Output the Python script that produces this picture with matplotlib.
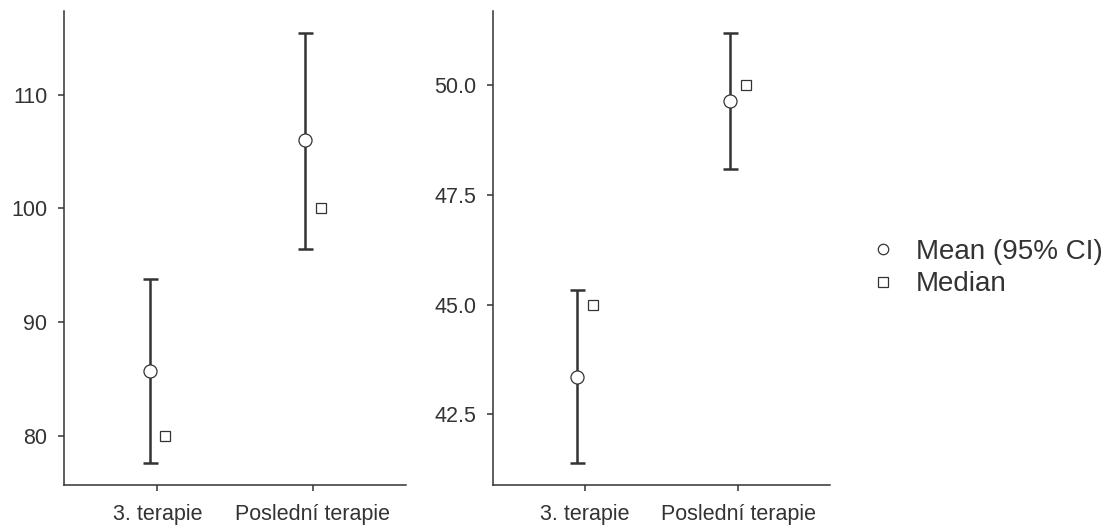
import matplotlib.pyplot as plt
from matplotlib.lines import Line2D

plt.rcParams.update({
    "font.family": ["Liberation Sans", "DejaVu Sans"],
    "axes.linewidth": 1.1,
    "axes.edgecolor": "#333333",
    "xtick.color": "#333333",
    "ytick.color": "#333333",
    "xtick.labelcolor": "#333333",
    "ytick.labelcolor": "#333333",
})

# ---- data ----
categories = ["3. terapie", "Poslední terapie"]

left_mean = [85.7, 106.0]
left_lo = [77.55, 96.4]
left_hi = [93.8, 115.45]
left_median = [80, 100]

right_mean = [43.36, 49.65]
right_lo = [41.38, 48.08]
right_hi = [45.34, 51.2]
right_median = [45, 50]

dark = "#333333"
dodge = 0.05

fig = plt.figure(figsize=(11.15, 5.3), dpi=100)
ax1 = fig.add_axes([64 / 1115, 1 - 485 / 530, 342 / 1115, 474 / 530])
ax2 = fig.add_axes([493 / 1115, 1 - 485 / 530, 337 / 1115, 474 / 530])


def draw(ax, mean, lo, hi, med, yticks, fmt):
    xs = [i + 1 for i in range(len(categories))]
    xm = [x - dodge for x in xs]
    xd = [x + dodge for x in xs]
    err = [[m - l for m, l in zip(mean, lo)], [h - m for m, h in zip(mean, hi)]]
    ax.errorbar(xm, mean, yerr=err, fmt="none", ecolor=dark, elinewidth=1.8,
                capsize=5.4, capthick=1.8, zorder=2)
    ax.plot(xm, mean, "o", ms=9.4, mfc="white", mec=dark, mew=0.9, zorder=3)
    ax.plot(xd, med, "s", ms=7.2, mfc="white", mec=dark, mew=0.9, zorder=3)

    ax.set_xlim(0.4, 2.6)
    ax.set_xticks(xs)
    ax.set_xticklabels(categories)
    ax.set_yticks(yticks)
    ax.set_yticklabels([fmt.format(v) for v in yticks])
    ax.margins(y=0.05)
    ax.tick_params(axis="both", labelsize=15.5, length=4.5, width=1.1)
    ax.tick_params(axis="y", pad=7.5)
    ax.tick_params(axis="x", pad=9)
    for s in ["top", "right"]:
        ax.spines[s].set_visible(False)


draw(ax1, left_mean, left_lo, left_hi, left_median, [80, 90, 100, 110], "{:.0f}")
draw(ax2, right_mean, right_lo, right_hi, right_median, [42.5, 45.0, 47.5, 50.0], "{:.1f}")

handles = [
    Line2D([], [], ls="none", marker="o", ms=7.5, mfc="white", mec=dark, mew=0.9),
    Line2D([], [], ls="none", marker="s", ms=6.5, mfc="white", mec=dark, mew=0.9),
]
fig.legend(handles, ["Mean (95% CI)", "Median"], loc="center left",
           bbox_to_anchor=(869 / 1115, 1 - 268 / 530), frameon=False,
           fontsize=20, handlelength=1.0, handletextpad=0.7,
           labelspacing=0.25, borderpad=0, borderaxespad=0, labelcolor=dark)

fig.savefig("out.png", dpi=100)
